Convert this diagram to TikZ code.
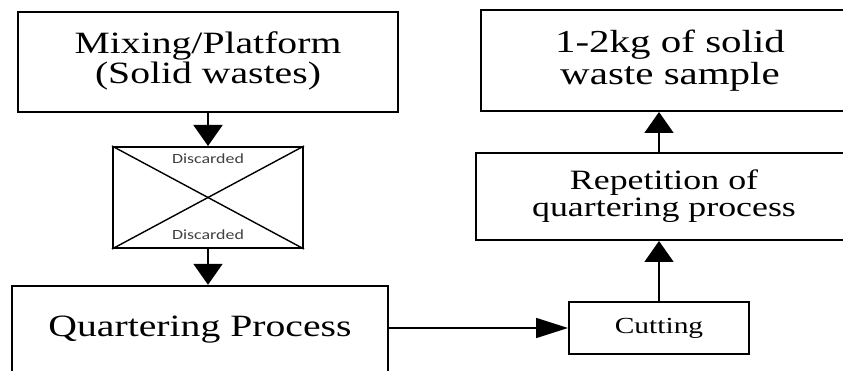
\documentclass[tikz,border=0pt]{standalone}
\usepackage{fontspec}
\setmainfont{Liberation Serif}[FakeStretch=1.28]
\newfontfamily\discfont{Carlito}[FakeStretch=1.28]
\usetikzlibrary{arrows.meta}
\begin{document}
\begin{tikzpicture}[x=1pt,y=-1pt,
  box/.style={draw,line width=2pt,inner sep=0pt,align=center,rectangle},
  bigtxt/.style={font=\fontsize{31pt}{29pt}\selectfont},
  reptxt/.style={font=\fontsize{28pt}{27pt}\selectfont},
  toptxt/.style={font=\fontsize{32pt}{32pt}\selectfont},
  cuttxt/.style={font=\fontsize{23pt}{23pt}\selectfont},
  disctxt/.style={font=\discfont\fontsize{14pt}{14pt}\selectfont,text=black!75,inner sep=0pt},
  varrow/.style={line width=2pt,-{Triangle[length=21pt,width=29pt]}},
  harrow/.style={line width=1.6pt,-{Triangle[length=32pt,width=20pt]}}]
\useasboundingbox (0,0) rectangle (843,371);
\clip (0,0) rectangle (843,371);
\fill[white] (0,0) rectangle (843,371);
% left column
\node[box,bigtxt,line width=2.6pt,minimum width=380pt,minimum height=100pt] (mix) at (208,62)
  {\raisebox{-5pt}{\begin{tabular}{@{}c@{}}Mixing/Platform\\(Solid wastes)\end{tabular}}};
\node[box,minimum width=190pt,minimum height=101pt] (xb) at (208,197.5) {};
\draw[line width=1.4pt] (xb.north west) -- (xb.south east);
\draw[line width=1.4pt] (xb.south west) -- (xb.north east);
\node[disctxt] (d1) at (208,159) {Discarded};
\node[disctxt] (d2) at (208,235) {Discarded};
\node[box,bigtxt,line width=2.4pt,minimum width=376pt,minimum height=88pt] (quart) at (200,330) {Quartering Process};
% right column
\node[box,cuttxt,minimum width=180pt,minimum height=52pt] (cut) at (659,328) {Cutting};
\node[box,reptxt,minimum width=376pt,minimum height=87pt] (rep) at (664,196.5) {Repetition of\\quartering process};
\node[box,toptxt,minimum width=378pt,minimum height=101pt] (top) at (670,60.5) {1-2kg of solid\\waste sample};
% connectors
\draw[varrow] (mix.south) -- (xb.north);
\draw[varrow] (xb.south) -- (xb.south |- quart.north);
\draw[harrow] (quart.east |- cut.west) -- (cut.west);
\draw[varrow] (cut.north) -- (cut.north |- rep.south);
\draw[varrow] (cut.north |- rep.north) -- (cut.north |- top.south);
\end{tikzpicture}
\end{document}
